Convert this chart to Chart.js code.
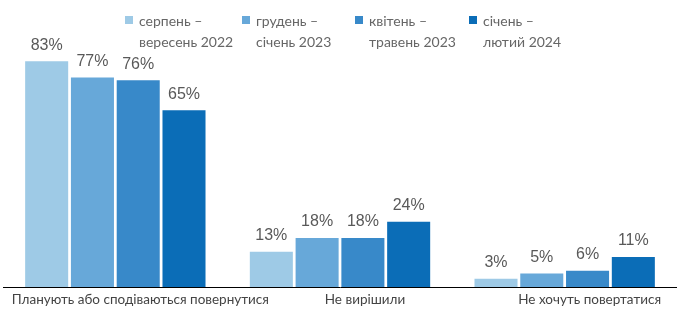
<!DOCTYPE html>
<html>
<head>
<meta charset="utf-8">
<script src="https://cdn.jsdelivr.net/npm/chart.js@4/dist/chart.umd.min.js"></script>
<style>
  body { margin: 0; background: #fff; }
  #wrap { position: relative; width: 677px; height: 309px; }
  #legend { position: absolute; top: 10px; left: 0; font-family: Lato, sans-serif; font-size: 14px; color: #666; }
  .item { position: absolute; top: 0; white-space: nowrap; line-height: 21px; }
  .item .box { position: absolute; left: 0; top: 6px; width: 8px; height: 8px; }
  .item .txt { position: absolute; left: 14px; top: 0; }
</style>
</head>
<body>
<div id="wrap">
  <canvas id="chart" width="677" height="309"></canvas>
  <div id="legend"></div>
</div>
<script>
const categories = ['Планують або сподіваються повернутися', 'Не вирішили', 'Не хочуть повертатися'];
const periods = [['серпень –', 'вересень 2022'], ['грудень –', 'січень 2023'], ['квітень –', 'травень 2023'], ['січень –', 'лютий 2024']];
const aug2022 = [83, 13, 3];
const dec2022 = [77, 18, 5];
const apr2023 = [76, 18, 6];
const jan2024 = [65, 24, 11];
const colors = ['#9ecae6', '#67a8d9', '#3889c9', '#0b6db7'];

const series = [aug2022, dec2022, apr2023, jan2024];

// legend built as html so that the two-line labels sit like in the source
const legendX = [125, 242, 355, 469];
const legend = document.getElementById('legend');
periods.forEach((p, i) => {
  const item = document.createElement('div');
  item.className = 'item';
  item.style.left = legendX[i] + 'px';
  item.innerHTML = '<span class="box" style="background:' + colors[i] + '"></span>' +
    '<span class="txt">' + p[0] + '<br>' + p[1] + '</span>';
  legend.appendChild(item);
});

const valueLabels = {
  id: 'valueLabels',
  afterDatasetsDraw(chart) {
    const ctx = chart.ctx;
    ctx.save();
    ctx.font = '16px "Liberation Sans", Arial, sans-serif';
    ctx.fillStyle = '#595959';
    ctx.textAlign = 'center';
    ctx.textBaseline = 'bottom';
    chart.data.datasets.forEach((ds, i) => {
      chart.getDatasetMeta(i).data.forEach((bar, j) => {
        ctx.fillText(ds.data[j] + '%', bar.x, bar.y - 8);
      });
    });
    ctx.restore();
  }
};

new Chart(document.getElementById('chart'), {
  type: 'bar',
  data: {
    labels: categories,
    datasets: series.map((d, i) => ({
      label: periods[i].join(' '),
      data: d,
      backgroundColor: colors[i],
      borderWidth: 0,
      categoryPercentage: 0.815,
      barPercentage: 0.94
    }))
  },
  options: {
    responsive: false,
    animation: false,
    layout: { padding: { left: 3, right: 0, top: 15, bottom: 0 } },
    plugins: {
      legend: { display: false },
      tooltip: { enabled: false }
    },
    scales: {
      x: {
        grid: { drawOnChartArea: false, drawTicks: false },
        border: { display: true, color: '#000', width: 1 },
        ticks: {
          color: '#444',
          font: { family: 'Lato', size: 13.5 },
          padding: 5,
          labelOffset: 25,
          maxRotation: 0,
          autoSkip: false
        },
        afterFit(scale) {
          // long labels would otherwise squeeze the plot area
          scale.paddingLeft = 0;
          scale.paddingRight = 0;
          scale.height = 22;
        }
      },
      y: {
        display: false,
        min: 0,
        max: 100
      }
    }
  },
  plugins: [valueLabels]
});
</script>
</body>
</html>
